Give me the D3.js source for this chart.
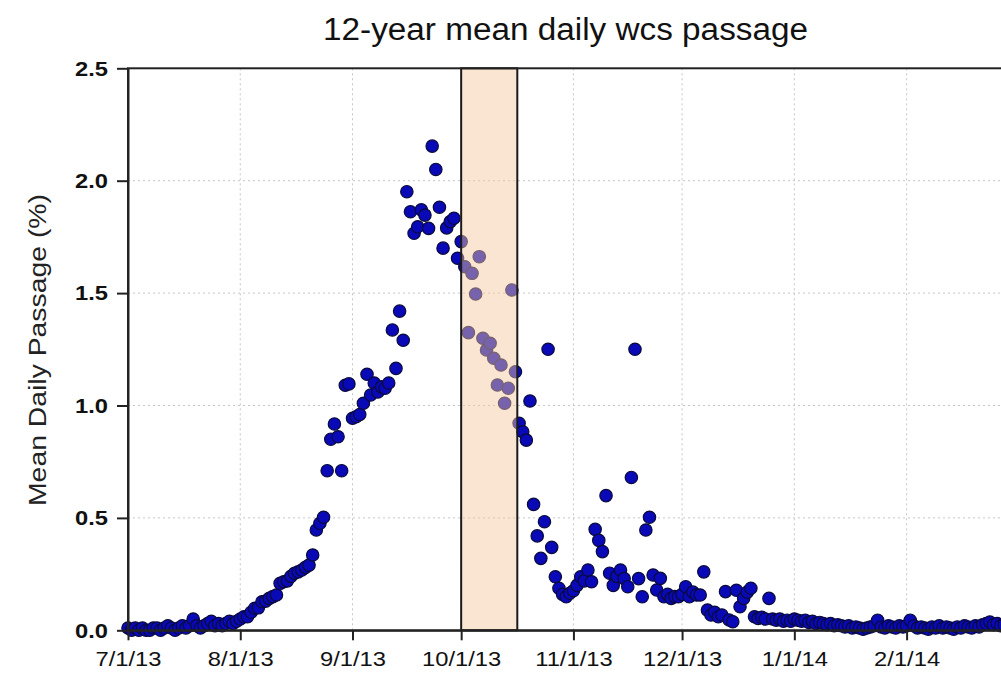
<!DOCTYPE html>
<html>
<head>
<meta charset="utf-8">
<script src="https://cdn.jsdelivr.net/npm/d3@7"></script>
<style>
  html, body { margin: 0; padding: 0; background: #fff; }
  svg { display: block; font-family: "Liberation Sans", Arial, sans-serif; }
</style>
</head>
<body>
<div id="chart"></div>
<script>
// daily values, one array per month (index 0 = first day of the month)
const monthStarts = ['2013-07-01', '2013-08-01', '2013-09-01', '2013-10-01', '2013-11-01', '2013-12-01', '2014-01-01', '2014-02-01']

const julyVals = [0.01, 0.00, 0.01, 0.00, 0.01, 0.00, 0.00, 0.01, 0.01, 0.00, 0.01, 0.02, 0.01, 0.00, 0.01, 0.02, 0.01, 0.02, 0.05, 0.02, 0.01, 0.02, 0.03, 0.04, 0.02, 0.03, 0.02, 0.03, 0.04, 0.03, 0.04]
const augVals = [0.05, 0.06, 0.06, 0.08, 0.098, 0.10, 0.127, 0.13, 0.142, 0.15, 0.157, 0.209, 0.216, 0.22, 0.24, 0.254, 0.26, 0.268, 0.28, 0.29, 0.335, 0.446, 0.476, 0.503, 0.71, 0.85, 0.918, 0.861, 0.71, 1.09, 1.096]
const sepVals = [0.943, 0.95, 0.96, 1.01, 1.139, 1.047, 1.10, 1.06, 1.083, 1.077, 1.10, 1.336, 1.165, 1.42, 1.29, 1.951, 1.862, 1.766, 1.795, 1.87, 1.847, 1.788, 2.154, 2.05, 1.882, 1.70, 1.79, 1.818, 1.833, 1.655]
const octVals = [1.729, 1.617, 1.324, 1.588, 1.496, 1.662, 1.299, 1.247, 1.277, 1.21, 1.091, 1.18, 1.01, 1.077, 1.514, 1.15, 0.921, 0.883, 0.846, 1.02, 0.56, 0.42, 0.32, 0.483, 1.25, 0.369, 0.238, 0.187, 0.16, 0.149, 0.165]
const novVals = [0.176, 0.20, 0.238, 0.22, 0.268, 0.216, 0.449, 0.40, 0.35, 0.599, 0.254, 0.20, 0.24, 0.268, 0.23, 0.194, 0.68, 1.25, 0.23, 0.149, 0.446, 0.503, 0.246, 0.179, 0.231, 0.149, 0.16, 0.142, 0.15, 0.149]
const decVals = [0.16, 0.194, 0.149, 0.17, 0.157, 0.157, 0.26, 0.09, 0.068, 0.08, 0.06, 0.068, 0.172, 0.046, 0.038, 0.178, 0.105, 0.142, 0.17, 0.187, 0.06, 0.053, 0.058, 0.05, 0.142, 0.05, 0.045, 0.05, 0.04, 0.045, 0.04]
const janVals = [0.05, 0.045, 0.04, 0.045, 0.035, 0.04, 0.03, 0.035, 0.03, 0.025, 0.03, 0.02, 0.025, 0.02, 0.015, 0.02, 0.01, 0.015, 0.01, 0.005, 0.01, 0.015, 0.02, 0.045, 0.015, 0.01, 0.02, 0.015, 0.01, 0.02, 0.015]
const febVals = [0.02, 0.045, 0.02, 0.01, 0.015, 0.01, 0.005, 0.015, 0.01, 0.02, 0.01, 0.015, 0.01, 0.005, 0.015, 0.01, 0.02, 0.015, 0.01, 0.02, 0.015, 0.025, 0.03, 0.037, 0.025, 0.03, 0.02, 0.025]

const xTickDates = ['2013-07-01', '2013-08-01', '2013-09-01', '2013-10-01', '2013-11-01', '2013-12-01', '2014-01-01', '2014-02-01']
const yTicks = [0, 0.5, 1.0, 1.5, 2.0, 2.5]
const xDomain = ['2013-07-01', '2014-03-01']
const band = ['2013-10-01', '2013-10-16T12:00']

const title = '12-year mean daily wcs passage'
const yLabel = 'Mean Daily Passage (%)'

const W = 1001
const H = 673
const plotLeft = 128
const plotTop = 68.3
const plotBottom = 630.3
const plotRight = 1008

const parseDay = d3.timeParse('%Y-%m-%d')
const parseTime = d3.timeParse('%Y-%m-%dT%H:%M')
const monthVals = [julyVals, augVals, sepVals, octVals, novVals, decVals, janVals, febVals]

const points = []
monthStarts.forEach((s, m) => {
  const start = parseDay(s)
  monthVals[m].forEach((v, i) => {
    points.push({ date: d3.timeDay.offset(start, i), value: v })
  })
})

const svg = d3.select('#chart').append('svg').attr('width', W).attr('height', H)

const x = d3.scaleTime().domain(xDomain.map(parseDay)).range([plotLeft, plotRight])
const y = d3.scaleLinear().domain([0, 2.5]).range([plotBottom, plotTop])

// grid
const grid = svg.append('g').attr('stroke', '#c6c6c6').attr('stroke-width', 1).attr('stroke-dasharray', '2,3')
grid.selectAll('line.v')
  .data(xTickDates.slice(1).map(parseDay))
  .join('line')
  .attr('class', 'v')
  .attr('x1', d => x(d)).attr('x2', d => x(d))
  .attr('y1', plotTop).attr('y2', plotBottom)
grid.selectAll('line.h')
  .data(yTicks.slice(1, -1))
  .join('line')
  .attr('class', 'h')
  .attr('x1', plotLeft).attr('x2', plotRight)
  .attr('y1', d => y(d)).attr('y2', d => y(d))

// points
svg.append('g')
  .selectAll('circle')
  .data(points)
  .join('circle')
  .attr('cx', d => x(d.date))
  .attr('cy', d => y(d.value))
  .attr('r', 6.2)
  .attr('fill', '#0909b8')
  .attr('stroke', '#0a0a3c')
  .attr('stroke-width', 1.2)

// shaded window, drawn over the points
svg.append('rect')
  .attr('x', x(parseDay(band[0])))
  .attr('y', plotTop)
  .attr('width', x(parseTime(band[1])) - x(parseDay(band[0])))
  .attr('height', plotBottom - plotTop)
  .attr('fill', '#f5c7a2')
  .attr('fill-opacity', 0.47)
  .attr('stroke', '#1a1a1a')
  .attr('stroke-width', 2)

// frame
svg.append('rect')
  .attr('x', plotLeft).attr('y', plotTop)
  .attr('width', plotRight - plotLeft).attr('height', plotBottom - plotTop)
  .attr('fill', 'none')
  .attr('stroke', '#222')
  .attr('stroke-width', 2)

// axes
const yAxis = svg.append('g')
  .attr('transform', `translate(${plotLeft},0)`)
  .call(d3.axisLeft(y).tickValues(yTicks).tickFormat(d3.format('.1f')).tickSize(11).tickSizeOuter(0).tickPadding(9))
yAxis.select('.domain').attr('stroke', '#222').attr('stroke-width', 2)
yAxis.selectAll('.tick line').attr('stroke', '#222').attr('stroke-width', 2)
yAxis.selectAll('.tick text')
  .attr('font-size', 21)
  .attr('font-weight', 'bold')
  .attr('fill', '#111')
  .attr('textLength', 33)
  .attr('lengthAdjust', 'spacingAndGlyphs')

const xAxis = svg.append('g')
  .attr('transform', `translate(0,${plotBottom})`)
  .call(d3.axisBottom(x).tickValues(xTickDates.map(parseDay)).tickFormat(d3.timeFormat('%-m/%-d/%y')).tickSize(10).tickSizeOuter(0).tickPadding(11))
xAxis.select('.domain').attr('stroke', '#222').attr('stroke-width', 2)
xAxis.selectAll('.tick line').attr('stroke', '#222').attr('stroke-width', 2)
xAxis.selectAll('.tick text')
  .attr('font-size', 21)
  .attr('fill', '#111')
  .each(function () {
    const w = this.getComputedTextLength()
    d3.select(this).attr('textLength', w * 1.13).attr('lengthAdjust', 'spacingAndGlyphs')
  })

// title and axis label
svg.append('text')
  .attr('x', 565.5)
  .attr('y', 40)
  .attr('text-anchor', 'middle')
  .attr('font-size', 31)
  .attr('fill', '#111')
  .attr('textLength', 485)
  .attr('lengthAdjust', 'spacingAndGlyphs')
  .text(title)

svg.append('text')
  .attr('transform', 'translate(46,350) rotate(-90)')
  .attr('text-anchor', 'middle')
  .attr('font-size', 23)
  .attr('fill', '#222')
  .attr('textLength', 312)
  .attr('lengthAdjust', 'spacingAndGlyphs')
  .text(yLabel)
</script>
</body>
</html>
